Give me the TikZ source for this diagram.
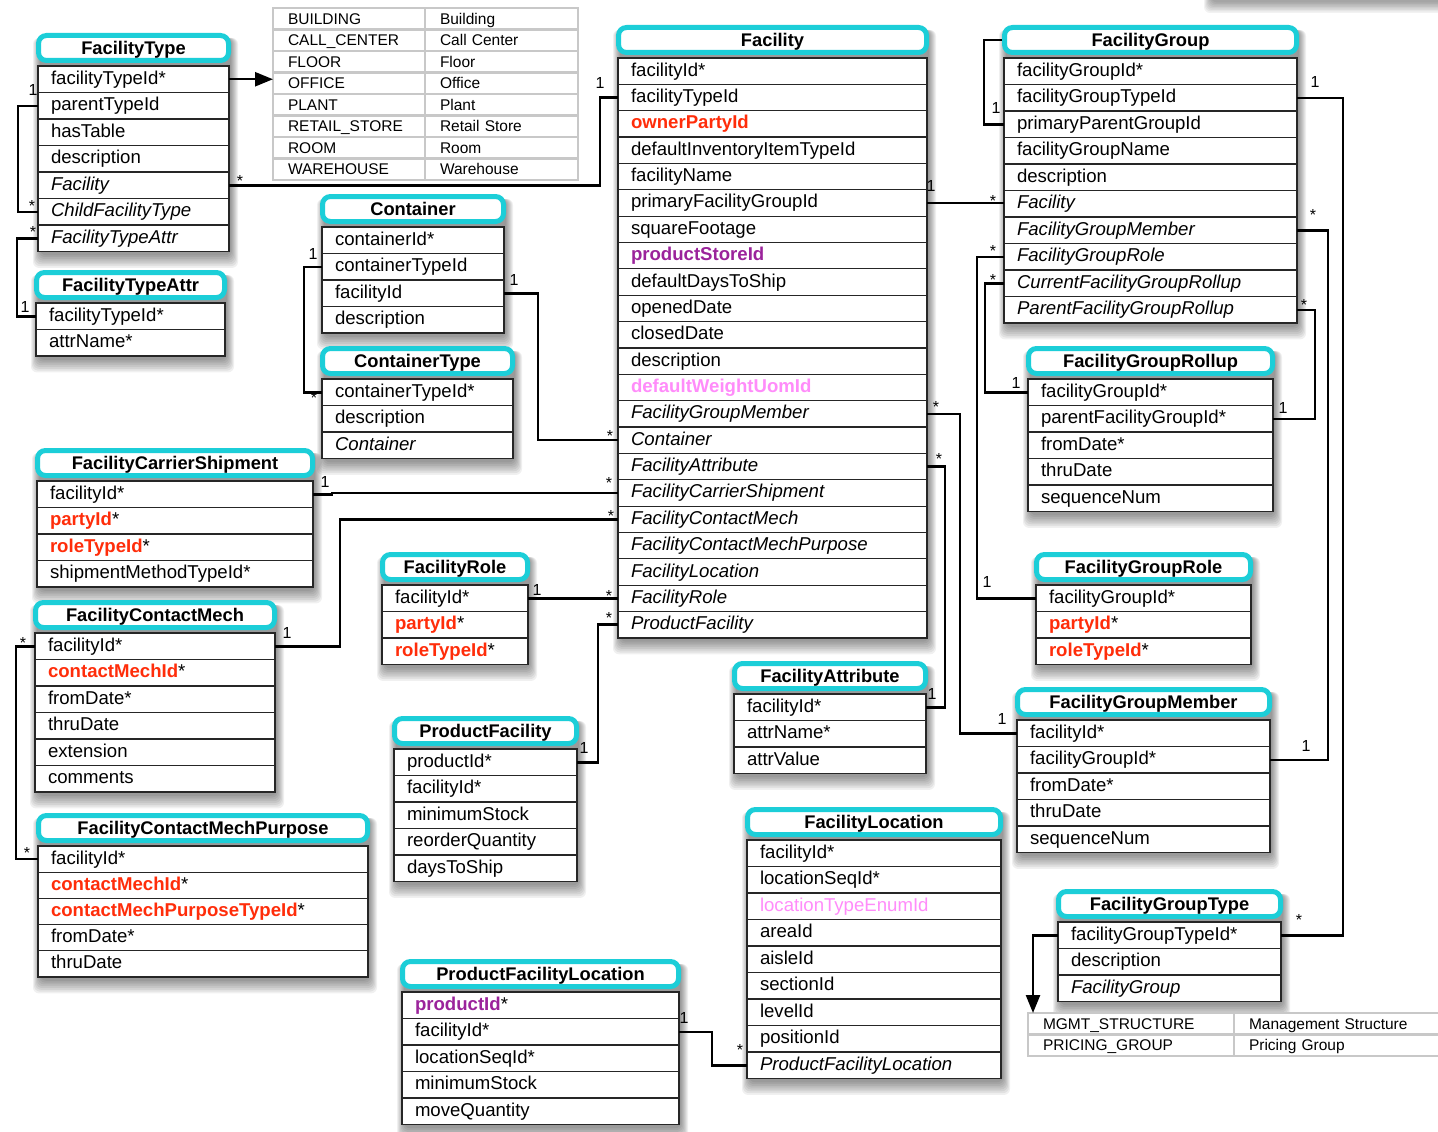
\documentclass[tikz,border=0pt]{standalone}
\usepackage{fontspec}
\setmainfont{Liberation Sans}
\usetikzlibrary{arrows.meta,backgrounds}
\pgfdeclarelayer{paper}
\pgfsetlayers{paper,background,main}

\definecolor{entcyan}{RGB}{28,206,216}
\definecolor{keyred}{RGB}{255,45,10}
\definecolor{keypurple}{RGB}{155,35,155}
\definecolor{keypink}{RGB}{255,140,250}
\definecolor{enumgray}{RGB}{200,200,200}

\newcommand{\redkey}[1]{{\bfseries\color{keyred}#1}}
\newcommand{\purplekey}[1]{{\bfseries\color{keypurple}#1}}
\newcommand{\pinkkey}[1]{{\bfseries\color{keypink}#1}}
\newcommand{\pinkfield}[1]{{\color{keypink}#1}}
\newcommand{\nav}[1]{\textit{#1}}

\tikzset{
    enthead/.style={draw=entcyan, line width=5pt, fill=white, rounded corners=8pt,
        minimum height=25pt, inner sep=0pt, font=\fontsize{18.3}{20}\selectfont\bfseries,
        text height=13pt, text depth=0pt},
    entrow/.style={draw=black!85, line width=1.2pt, fill=white, anchor=north west,
        outer sep=0pt, inner xsep=13pt, inner ysep=0pt, align=left,
        font=\fontsize{18.6}{20}\selectfont, text height=13pt, text depth=3pt},
    enumcell/.style={draw=enumgray, line width=2.5pt, fill=white, anchor=north west,
        outer sep=0pt, inner xsep=15pt, inner ysep=0pt, align=left, minimum height=21.5pt,
        font=\fontsize{15.5}{17}\selectfont, text height=11pt, text depth=0pt},
    conn/.style={line width=2.5pt},
    enumarrow/.style={line width=2.5pt, -{Triangle[length=18pt,width=14pt]}},
    mult/.style={font=\fontsize{16}{18}\selectfont, inner sep=0pt},
}

\def\rowh{26.5}

% name, x, y (top of rows), width, number of rows, title, rows
\newcommand{\entity}[7]{%
    \pgfmathsetmacro\hx{#2+#4/2}
    \pgfmathsetmacro\hy{#3-18}
    \pgfmathsetmacro\hw{#4-1}
    \pgfmathsetmacro\tw{#4-26}
    \node[enthead, minimum width=\hw pt] (#1) at (\hx,\hy) {#6};
    \foreach \fld [count=\i] in {#7} {
        \pgfmathsetmacro\ry{#3+(\i-1)*\rowh}
        \node[entrow, minimum width=#4pt, text width=\tw pt, minimum height=\rowh pt] (#1-\i) at (#2,\ry) {\fld};
    }
    \pgfmathsetmacro\sb{#3+#5*\rowh}
    \begin{pgfonlayer}{background}
        \foreach \k in {1,...,8}
            \fill[black, opacity=0.06, rounded corners=6pt] (#2-\k+3, #3-28) rectangle (#2+#4+\k+1, \sb+2+1.8*\k);
    \end{pgfonlayer}
}

% name, x, y, left width, right width, code/description pairs
\newcommand{\enumtab}[6]{%
    \pgfmathsetmacro\ex{#2+#4}
    \pgfmathsetmacro\twl{#4-30}
    \pgfmathsetmacro\twr{#5-30}
    \foreach \ecode/\edesc [count=\i] in {#6} {
        \pgfmathsetmacro\ey{#3+(\i-1)*21.5}
        \node[enumcell, minimum width=#4pt, text width=\twl pt] (#1-\i) at (#2,\ey) {\ecode};
        \node[enumcell, minimum width=#5pt, text width=\twr pt] (#1-\i-r) at (\ex,\ey) {\edesc};
    }
}

\begin{document}
\begin{tikzpicture}[x=1pt,y=-1pt]
\useasboundingbox (0,0) rectangle (1438,1132);
\begin{pgfonlayer}{paper}
    \fill[white] (0,0) rectangle (1438,1132);
\end{pgfonlayer}

% shadow of a table above the page
\begin{pgfonlayer}{background}
    \foreach \k in {1,...,8}
        \fill[black, opacity=0.05, rounded corners=6pt] (1212-\k,-40) rectangle (1450,1+1.5*\k);
\end{pgfonlayer}

% Type lists
\enumtab{fte}{273}{8}{152}{153}{BUILDING/Building, CALL\_CENTER/Call Center, FLOOR/Floor, OFFICE/Office, PLANT/Plant, RETAIL\_STORE/Retail Store, ROOM/Room, WAREHOUSE/Warehouse}
\enumtab{fge}{1028}{1013}{206}{230}{MGMT\_STRUCTURE/Management Structure, PRICING\_GROUP/Pricing Group}

% Left column
\entity{ft}{38}{66}{191}{7}{FacilityType}{facilityTypeId*, parentTypeId, hasTable, description, \nav{Facility}, \nav{ChildFacilityType}, \nav{FacilityTypeAttr}}
\entity{fta}{36}{303}{189}{2}{FacilityTypeAttr}{facilityTypeId*, attrName*}
\entity{fcs}{37}{481}{276}{4}{FacilityCarrierShipment}{facilityId*, \redkey{partyId}*, \redkey{roleTypeId}*, shipmentMethodTypeId*}
\entity{fcm}{35}{633}{240}{6}{FacilityContactMech}{facilityId*, \redkey{contactMechId}*, fromDate*, thruDate, extension, comments}
\def\rowh{26.2}
\entity{fcmp}{38}{846}{330}{5}{FacilityContactMechPurpose}{facilityId*, \redkey{contactMechId}*, \redkey{contactMechPurposeTypeId}*, fromDate*, thruDate}
\def\rowh{26.5}

% Middle
\entity{ct}{322}{227}{182}{4}{Container}{containerId*, containerTypeId, facilityId, description}
\entity{ctt}{322}{379}{191}{3}{ContainerType}{containerTypeId*, description, \nav{Container}}
\entity{fr}{382}{585}{146}{3}{FacilityRole}{facilityId*, \redkey{partyId}*, \redkey{roleTypeId}*}
\entity{pf}{394}{749}{183}{5}{ProductFacility}{productId*, facilityId*, minimumStock, reorderQuantity, daysToShip}
\entity{pfl}{402}{992}{277}{5}{ProductFacilityLocation}{\purplekey{productId}*, facilityId*, locationSeqId*, minimumStock, moveQuantity}

% Facility
\def\rowh{26.36}
\entity{fac}{618}{58}{309}{22}{Facility}{facilityId*, facilityTypeId, \redkey{ownerPartyId}, defaultInventoryItemTypeId, facilityName, primaryFacilityGroupId, squareFootage, \purplekey{productStoreId}, defaultDaysToShip, openedDate, closedDate, description, \pinkkey{defaultWeightUomId}, \nav{FacilityGroupMember}, \nav{Container}, \nav{FacilityAttribute}, \nav{FacilityCarrierShipment}, \nav{FacilityContactMech}, \nav{FacilityContactMechPurpose}, \nav{FacilityLocation}, \nav{FacilityRole}, \nav{ProductFacility}}
\def\rowh{26.5}
\entity{fa}{734}{694}{192}{3}{FacilityAttribute}{facilityId*, attrName*, attrValue}
\entity{fl}{747}{840}{254}{9}{FacilityLocation}{facilityId*, locationSeqId*, \pinkfield{locationTypeEnumId}, areaId, aisleId, sectionId, levelId, positionId, \nav{ProductFacilityLocation}}

% Facility groups
\entity{fg}{1004}{58}{293}{10}{FacilityGroup}{facilityGroupId*, facilityGroupTypeId, primaryParentGroupId, facilityGroupName, description, \nav{Facility}, \nav{FacilityGroupMember}, \nav{FacilityGroupRole}, \nav{CurrentFacilityGroupRollup}, \nav{ParentFacilityGroupRollup}}
\entity{fgr}{1028}{379}{245}{5}{FacilityGroupRollup}{facilityGroupId*, parentFacilityGroupId*, fromDate*, thruDate, sequenceNum}
\entity{fgro}{1036}{585}{215}{3}{FacilityGroupRole}{facilityGroupId*, \redkey{partyId}*, \redkey{roleTypeId}*}
\entity{fgm}{1017}{720}{253}{5}{FacilityGroupMember}{facilityId*, facilityGroupId*, fromDate*, thruDate, sequenceNum}
\entity{fgt}{1058}{922}{223}{3}{FacilityGroupType}{facilityGroupTypeId*, description, \nav{FacilityGroup}}

% FacilityType links
\draw[enumarrow] (ft-1.east) -- (ft-1.east -| fte-4.west);
\draw[conn] (ft-2.west) -- ++(-20,0) |- (ft-6.west);
\node[mult] (m1) at ([shift={(-5,-16)}]ft-2.west) {1};
\node[mult] (m2) at ([shift={(-6,-6)}]ft-6.west) {*};
\draw[conn] (ft-7.west) -- ++(-21,0) |- (fta-1.west);
\node[mult] (m3) at ([shift={(-5,-6)}]ft-7.west) {*};
\node[mult] (m4) at ([shift={(-11,-9)}]fta-1.west) {1};
\draw[conn] (ft-5.east) -| ([xshift=-18pt]fac-2.west) -- (fac-2.west);
\node[mult] (m5) at ([shift={(11,-4)}]ft-5.east) {*};
\node[mult] (m6) at ([shift={(-18,-15)}]fac-2.west) {1};

% Container links
\draw[conn] (ct-2.west) -- ++(-18,0) |- (ctt-1.west);
\node[mult] (m7) at ([shift={(-9,-13)}]ct-2.west) {1};
\node[mult] (m8) at ([shift={(-8,6)}]ctt-1.west) {*};
\draw[conn] (ct-3.east) -| ([xshift=-80pt]fac-15.west) -- (fac-15.west);
\node[mult] (m9) at ([shift={(10,-13)}]ct-3.east) {1};
\node[mult] (m10) at ([shift={(-8,-4)}]fac-15.west) {*};

% Shipment and contact mech links
\draw[conn] (fcs-1.east) -- ++(19,0) |- (fac-17.west);
\node[mult] (m11) at ([shift={(12,-12)}]fcs-1.east) {1};
\node[mult] (m12) at ([shift={(-9,-10)}]fac-17.west) {*};
\draw[conn] (fcm-1.east) -| ([xshift=-278pt]fac-18.west) -- (fac-18.west);
\node[mult] (m13) at ([shift={(12,-13)}]fcm-1.east) {1};
\node[mult] (m14) at ([shift={(-7,-3)}]fac-18.west) {*};
\draw[conn] (fcm-1.west) -- ++(-19,0) |- (fcmp-1.west);
\node[mult] (m15) at ([shift={(-12,-3)}]fcm-1.west) {*};
\node[mult] (m16) at ([shift={(-11,-6)}]fcmp-1.west) {*};

% Role and product links
\draw[conn] (fr-1.east) -- ++(45,0) |- (fac-21.west);
\node[mult] (m17) at ([shift={(9,-8)}]fr-1.east) {1};
\node[mult] (m18) at ([shift={(-9,-2)}]fac-21.west) {*};
\draw[conn] (pf-1.east) -| ([xshift=-20pt]fac-22.west) -- (fac-22.west);
\node[mult] (m19) at ([shift={(7,-14)}]pf-1.east) {1};
\node[mult] (m20) at ([shift={(-9,-7)}]fac-22.west) {*};
\draw[conn] (pfl-2.east) -- ++(33,0) |- (fl-9.west);
\node[mult] (m38) at ([shift={(5,-14)}]pfl-2.east) {1};
\node[mult] (m39) at ([shift={(-7,-15)}]fl-9.west) {*};

% Facility to the right
\draw[conn] (fac-6.east) -- (fac-6.east -| fg-6.west);
\node[mult] (m21) at ([shift={(4,-17)}]fac-6.east) {1};
\node[mult] (m22) at ([shift={(-11,-3)}]fg-6.west) {*};
\draw[conn] (fac-14.east) -- ++(33,0) |- (fgm-1.west);
\node[mult] (m34) at ([shift={(9,-7)}]fac-14.east) {*};
\node[mult] (m35) at ([shift={(-15,-14)}]fgm-1.west) {1};
\draw[conn] (fac-16.east) -- ++(18,0) |- (fa-1.east);
\node[mult] (m36) at ([shift={(12,-8)}]fac-16.east) {*};
\node[mult] (m37) at ([shift={(6,-13)}]fa-1.east) {1};

% FacilityGroup links
\draw[conn] (fg.west) -- ++(-18,0) |- (fg-3.west);
\node[mult] (m23) at ([shift={(-8,-16)}]fg-3.west) {1};
\draw[conn] (fg-2.east) -- ++(46,0) |- (fgt-1.east);
\node[mult] (m24) at ([shift={(18,-16)}]fg-2.east) {1};
\node[mult] (m25) at ([shift={(18,-15)}]fgt-1.east) {*};
\draw[conn] (fg-7.east) -- ++(31,0) |- (fgm-2.east);
\node[mult] (m26) at ([shift={(16,-15)}]fg-7.east) {*};
\node[mult] (m27) at ([shift={(36,-14)}]fgm-2.east) {1};
\draw[conn] (fg-10.east) -- ++(18,0) |- (fgr-2.east);
\node[mult] (m28) at ([shift={(7,-5)}]fg-10.east) {*};
\node[mult] (m29) at ([shift={(10,-11)}]fgr-2.east) {1};
\draw[conn] (fg-8.west) -- ++(-27,0) |- (fgro-1.west);
\node[mult] (m30) at ([shift={(-11,-6)}]fg-8.west) {*};
\node[mult] (m31) at ([shift={(-49,-16)}]fgro-1.west) {1};
\draw[conn] (fg-9.west) -- ++(-19,0) |- (fgr-1.west);
\node[mult] (m32) at ([shift={(-11,-3)}]fg-9.west) {*};
\node[mult] (m33) at ([shift={(-12,-9)}]fgr-1.west) {1};

% FacilityGroupType values
\draw[enumarrow] (fgt-1.west) -| ([xshift=5pt]fge-1.north west);

\end{tikzpicture}
\end{document}
